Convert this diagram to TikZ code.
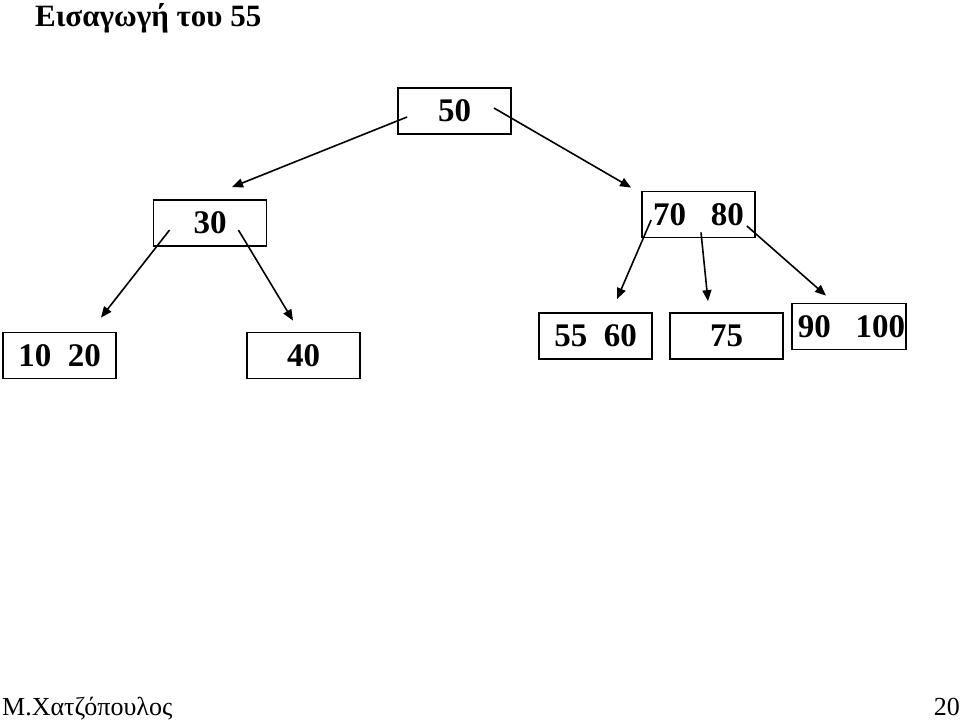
\documentclass[tikz,border=0pt]{standalone}
\usepackage{fontspec}
\setmainfont{Liberation Serif}
\usetikzlibrary{positioning,calc,arrows.meta}

\begin{document}
\begin{tikzpicture}[
    x=1pt,y=-1pt,
    key/.style={draw,line width=1.8pt,minimum width=113pt,minimum height=46pt,inner sep=0pt,font=\fontsize{33}{36}\selectfont\bfseries},
    arr/.style={line width=1.6pt,-{Triangle[length=11pt,width=9pt]}},
    lbl/.style={inner sep=0pt,anchor=base west}
]
\useasboundingbox (0,0) rectangle (960,722);

% title
\node[lbl,font=\fontsize{31}{34}\selectfont\bfseries] (title) at (35,27) {Εισαγωγή του 55};

% root
\node[key] (n50) at (454.5,111) {\raisebox{-2pt}{50}};

% second level
\node[key] (n30)   at (210,223)   {\raisebox{-3pt}{30}};
\node[key] (n7080) at (698.5,214.5) {\raisebox{-2pt}{70\ \ \ 80}};

% leaves
\node[key] (n1020)  at (59.5,355.5) {\raisebox{-2pt}{10\ \ 20}\hspace{8pt}};
\node[key] (n40)    at (303.5,355.5) {\raisebox{-2pt}{40}};
\node[key] (n5560)  at (595.5,336)  {\raisebox{-2pt}{55\ \ 60}\hspace{10pt}};
\node[key] (n75)    at (726.5,336)  {\raisebox{-2pt}{75}};
\node[key,minimum width=114pt] (n90100) at (849,326.5)  {\hspace{5pt}90\ \ \ 100};

% pointers from the root
\draw[arr] ($(n50.west)+(10,6)$) -- ($(n30.north)+(22,-12)$);
\draw[arr] ($(n50.east)+(-18,-3)$) -- ($(n7080.north west)+(-10,-3)$);

% pointers from 30
\draw[arr] ($(n30.west)+(17,7)$) -- ($(n1020.north)+(41.5,-14)$);
\draw[arr] ($(n30.east)+(-29,7)$) -- ($(n40.north)+(-10.5,-11)$);

% pointers from 70 80
\draw[arr] ($(n7080.west)+(10,5.5)$) -- ($(n5560.north)+(21.5,-13)$);
\draw[arr] ($(n7080.south)+(2.5,-6)$) -- ($(n75.north)+(-18.5,-11)$);
\draw[arr] ($(n7080.east)+(-9,11.5)$) -- ($(n90100.north)+(-23,-7)$);

% footer
\node[lbl,font=\fontsize{26}{28}\selectfont] (author) at (2,715) {Μ.Χατζόπουλος};
\node[inner sep=0pt,anchor=base east,font=\fontsize{26}{28}\selectfont] (page) at (960,715) {20};

\end{tikzpicture}
\end{document}
